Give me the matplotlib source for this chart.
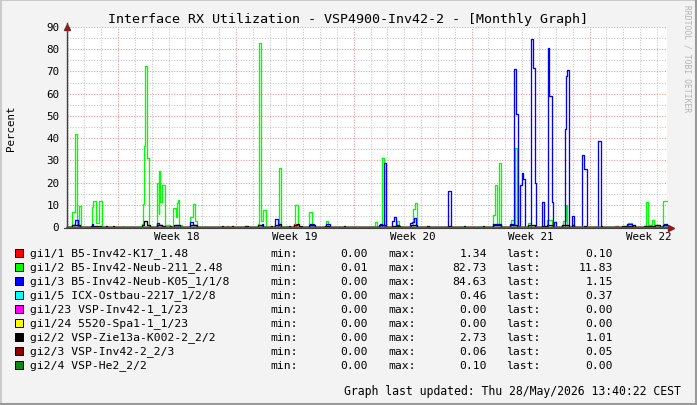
import matplotlib
matplotlib.use('Agg')
import matplotlib.pyplot as plt
from matplotlib.patches import Rectangle
from matplotlib.lines import Line2D

# time axis: days since left edge of the graph, values in percent
# each series is a list of step breakpoints (drawn with steps-post)
span_days = 35.63
first_monday = 3.03
week_labels = ['Week 18', 'Week 19', 'Week 20', 'Week 21', 'Week 22']

red_t = [0, 9.50, 9.56, 12.56, 12.66, 13.46, 13.58, 32.57, 32.70, 35.55]
red_v = [0, 0.6, 0, 1.3, 0, 1.3, 0, 0.5, 0, 0.1]

green_t = [0, 0.315, 0.475, 0.612, 0.695, 0.831, 1.485, 1.562, 1.704, 1.900, 2.061,
           2.298, 2.346, 3.308, 3.355, 4.436, 4.513, 4.560, 4.650, 4.768, 4.887, 4.929,
           5.327, 5.446, 5.480, 5.523, 5.659, 5.819, 6.116, 6.312, 6.455, 6.514, 6.574,
           6.669, 6.829, 7.304, 7.500, 7.601, 7.702,
           11.34, 11.419, 11.502, 11.639, 11.800, 12.589, 12.690, 13.005, 13.06,
           13.48, 13.557, 13.699, 13.78, 14.388, 14.531, 15.380, 15.517,
           18.290, 18.426, 18.688, 18.72, 18.842, 19.62, 19.74, 20.528, 20.647, 20.766,
           25.315, 25.416, 25.517, 25.653, 25.754, 26.387, 26.544, 26.60, 26.70, 26.80,
           27.357, 27.553, 28.521, 28.818, 29.471, 29.614, 29.691,
           33.314, 33.534, 34.30, 34.382, 34.483, 34.720, 34.839, 35.10, 35.35, 35.410]
green_v = [0, 6.6, 42.0, 1.0, 9.4, 0, 9.0, 11.8, 2.0, 11.8, 0,
           0.5, 0, 0.5, 0, 1.5, 10.3, 36.3, 72.6, 30.9, 0.5, 0,
           19.7, 6.0, 25.2, 11.4, 18.9, 1.0, 0, 8.5, 4.5, 11.0, 12.3,
           1.0, 0, 4.3, 10.3, 2.8, 0,
           1.5, 82.7, 2.6, 7.5, 0, 26.4, 0, 0.5, 0,
           0.8, 9.9, 0.8, 0, 6.6, 0, 2.5, 0,
           2.1, 0, 29.8, 31.0, 0, 2.9, 0, 8.1, 10.7, 0,
           5.4, 19.0, 0.8, 28.8, 0, 3.1, 0.5, 35.4, 0.5, 0,
           1.8, 0, 3.1, 0, 2.5, 9.8, 0,
           2.0, 0, 0.5, 11.4, 1.0, 3.2, 1.0, 0, 0.5, 11.8]

blue_t = [0, 0.315, 0.475, 0.653, 0.75, 1.485, 1.562, 5.327, 5.48, 5.62, 6.47, 6.57,
          7.304, 7.50, 7.65, 11.56, 11.66, 12.37, 12.51, 14.43, 14.69, 15.38, 15.62,
          18.59, 18.73, 18.842, 18.925, 19.30, 19.42, 19.52, 19.70,
          20.37, 20.50, 20.62, 20.72, 22.625, 22.785, 25.29, 25.80,
          26.31, 26.544, 26.68, 26.76, 26.90, 27.00, 27.10, 27.20,
          27.553, 27.672, 27.791, 27.850, 28.189, 28.343,
          28.545, 28.640, 28.783, 28.842, 28.937, 29.038,
          29.57, 29.63, 29.69, 29.79, 29.970, 30.089, 30.600, 30.701, 30.861,
          31.550, 31.692, 33.25, 33.55, 35.35, 35.45]
blue_v = [0, 0.7, 3.1, 0.5, 0, 1.5, 0, 1.7, 0.8, 0, 1.0, 0,
          2.2, 1.0, 0, 1.4, 0, 3.6, 0, 1.4, 0, 1.3, 0,
          1.2, 0, 28.8, 0, 2.9, 4.3, 0.9, 0,
          1.9, 2.4, 4.0, 0, 16.4, 0, 1.2, 0,
          1.4, 71.0, 50.7, 0.5, 19.0, 24.2, 21.6, 0,
          84.6, 71.4, 19.7, 0, 11.1, 0,
          80.4, 58.8, 11.4, 0, 2.1, 0,
          44.0, 68.0, 70.5, 0, 4.8, 0, 32.4, 26.1, 0,
          38.6, 0, 1.5, 0, 0.3, 1.15]

cyan_t = [0, 26.5, 26.6, 35.4]
cyan_v = [0, 0.46, 0, 0.37]
magenta_t = [0]
magenta_v = [0]
yellow_t = [0]
yellow_v = [0]

black_t = [0, 0.32, 0.75, 1.40, 2.00, 2.29, 2.36, 2.74, 2.80, 4.44, 4.57, 4.77, 4.93,
           5.33, 5.65, 5.82, 6.10, 6.20, 6.35, 6.70, 7.30, 7.70, 9.20, 9.26, 9.80, 9.86,
           10.55, 10.75, 11.34, 11.65, 12.10, 12.20, 12.37, 12.58, 12.70, 13.20, 13.26,
           13.50, 13.64, 13.76, 13.95, 14.40, 14.70, 15.35, 15.60, 16.42, 16.50,
           18.55, 18.95, 19.30, 19.80, 20.40, 20.80, 21.40, 21.48, 22.60, 22.80,
           23.55, 23.62, 24.70, 24.78, 25.30, 25.78, 26.30, 26.75, 27.35, 27.80,
           28.20, 28.50, 28.85, 29.40, 29.80, 30.00, 30.10, 30.70, 30.80, 31.70, 31.78,
           32.95, 33.60, 33.75, 34.25, 34.90, 35.20, 35.38]
black_v = [0, 0.8, 0, 0.6, 0, 0.4, 0, 0.4, 0, 0.8, 2.7, 0.8, 0,
           1.0, 0.6, 0, 0.5, 0, 0.8, 0, 0.8, 0, 0.4, 0, 0.4, 0,
           0.4, 0, 0.8, 0, 0.4, 0, 1.0, 1.3, 0, 0.4, 0,
           0.8, 1.5, 0.6, 0, 0.8, 0, 0.5, 0, 0.4, 0,
           0.8, 0, 0.6, 0, 0.8, 0, 0.3, 0, 0.6, 0,
           0.3, 0, 0.3, 0, 1.0, 0, 0.8, 0, 1.0, 0,
           0.6, 0.8, 0, 0.8, 0, 0.8, 0, 0.5, 0, 0.3, 0,
           0.6, 0.8, 0, 0.5, 0.8, 0, 1.0]

darkred_t = [0, 35.3]
darkred_v = [0, 0.05]
darkgreen_t = [0]
darkgreen_v = [0]

names = ['gi1/1 B5-Inv42-K17_1.48', 'gi1/2 B5-Inv42-Neub-211_2.48',
         'gi1/3 B5-Inv42-Neub-K05_1/1/8', 'gi1/5 ICX-Ostbau-2217_1/2/8',
         'gi1/23 VSP-Inv42-1_1/23', 'gi1/24 5520-Spa1-1_1/23',
         'gi2/2 VSP-Zie13a-K002-2_2/2', 'gi2/3 VSP-Inv42-2_2/3', 'gi2/4 VSP-He2_2/2']
colors = ['#ff0000', '#00ff00', '#0000ff', '#00ffff', '#ff00ff', '#ffff00',
          '#000000', '#8b0000', '#118811']
mins = ['0.00', '0.01', '0.00', '0.00', '0.00', '0.00', '0.00', '0.00', '0.00']
maxs = ['1.34', '82.73', '84.63', '0.46', '0.00', '0.00', '2.73', '0.06', '0.10']
lasts = ['0.10', '11.83', '1.15', '0.37', '0.00', '0.00', '1.01', '0.05', '0.00']

series = [(red_t, red_v), (green_t, green_v), (blue_t, blue_v), (cyan_t, cyan_v),
          (magenta_t, magenta_v), (yellow_t, yellow_v), (black_t, black_v),
          (darkred_t, darkred_v), (darkgreen_t, darkgreen_v)]

W, H = 697, 406
mono = 'DejaVu Sans Mono'

def fx(x):
    return x / W

def fy(y):
    return 1 - y / H

fig = plt.figure(figsize=(W / 100, H / 100), dpi=100)
fig.patch.set_facecolor('#f3f3f3')

ax = fig.add_axes([fx(67), fy(228), 600 / W, 200 / H])
ax.set_facecolor('white')
ax.set_xlim(0, span_days)
ax.set_ylim(0, 90)
for s in ax.spines.values():
    s.set_visible(False)
ax.set_xticks([])
ax.set_yticks([])

# grid like rrdtool: gray dotted minor, red dotted major
dots = (0, (1, 1.4))
for v in range(5, 91, 10):
    ax.axhline(v, color='#c8c8c8', lw=0.8, ls=dots, zorder=0)
for v in range(10, 91, 10):
    ax.axhline(v, color='#e89898', lw=0.8, ls=dots, zorder=0)
d = first_monday - 7
while d < span_days:
    for k in range(7):
        x = d + k
        if 0 < x < span_days:
            if k == 0:
                ax.axvline(x, color='#e89898', lw=0.8, ls=dots, zorder=0)
            else:
                ax.axvline(x, color='#c8c8c8', lw=0.8, ls=dots, zorder=0)
    d += 7

for (t, v), c in zip(series, colors):
    ax.step(list(t) + [span_days], list(v) + [v[-1]], where='post', color=c,
            lw=0.95, clip_on=False, zorder=3)

# y tick labels
for v in range(0, 91, 10):
    ax.text(-0.013, v, str(v), transform=ax.get_yaxis_transform(), ha='right',
            va='center', fontsize=7.8, family=mono)
# week labels at mid-week
for i, lab in enumerate(week_labels):
    ax.text(first_monday + 7 * i + 3.5, -4.2, lab, ha='center', va='center',
            fontsize=7.8, family=mono)

# axes with arrows
fig.add_artist(Line2D([fx(67), fx(67)], [fy(228), fy(24)], color='#404040', lw=1))
fig.add_artist(Line2D([fx(64), fx(670)], [fy(228.5), fy(228.5)], color='#404040', lw=0.8, zorder=1))
ax.plot([0], [1.0], transform=ax.transAxes, marker='^', ms=4, color='#8b1a1a',
        clip_on=False, zorder=5)
fig.add_artist(Line2D([fx(671)], [fy(228.5)], marker='>', ms=4, color='#8b1a1a'))

fig.text(0.5, fy(19), 'Interface RX Utilization - VSP4900-Inv42-2 - [Monthly Graph]',
         ha='center', va='center', fontsize=9.6, family=mono)
fig.text(fx(11), fy(128), 'Percent', rotation=90, ha='center', va='center',
         fontsize=7.8, family=mono)
fig.text(fx(687), fy(5), 'RRDTOOL / TOBI OETIKER', rotation=270, ha='center', va='top',
         fontsize=5.8, family=mono, color='#b4b4b4')

# legend
row_y = 254
for i in range(len(names)):
    y = row_y + 14 * i
    fig.add_artist(Rectangle((fx(15), fy(y + 4)), 8 / W, 8 / H, facecolor=colors[i],
                             edgecolor='black', lw=0.7))
    fig.text(fx(30), fy(y), names[i], ha='left', va='center', fontsize=8.2, family=mono)
    fig.text(fx(270), fy(y), 'min:', ha='left', va='center', fontsize=8.2, family=mono)
    fig.text(fx(368), fy(y), mins[i], ha='right', va='center', fontsize=8.2, family=mono)
    fig.text(fx(388), fy(y), 'max:', ha='left', va='center', fontsize=8.2, family=mono)
    fig.text(fx(487), fy(y), maxs[i], ha='right', va='center', fontsize=8.2, family=mono)
    fig.text(fx(506), fy(y), 'last:', ha='left', va='center', fontsize=8.2, family=mono)
    fig.text(fx(613), fy(y), lasts[i], ha='right', va='center', fontsize=8.2, family=mono)

fig.text(fx(681), fy(392), 'Graph last updated: Thu 28/May/2026 13:40:22 CEST',
         ha='right', va='center', fontsize=8.3, family=mono)

# shaded frame
fig.add_artist(Line2D([0, 1], [fy(0.5), fy(0.5)], color='#cbcbcb', lw=1.5))
fig.add_artist(Line2D([fx(0.5), fx(0.5)], [0, 1], color='#cbcbcb', lw=1.5))
fig.add_artist(Line2D([0, 1], [fy(405), fy(405)], color='#999999', lw=1.5))
fig.add_artist(Line2D([fx(696), fx(696)], [0, 1], color='#999999', lw=1.5))

fig.savefig('out.png', dpi=100, facecolor=fig.get_facecolor())
